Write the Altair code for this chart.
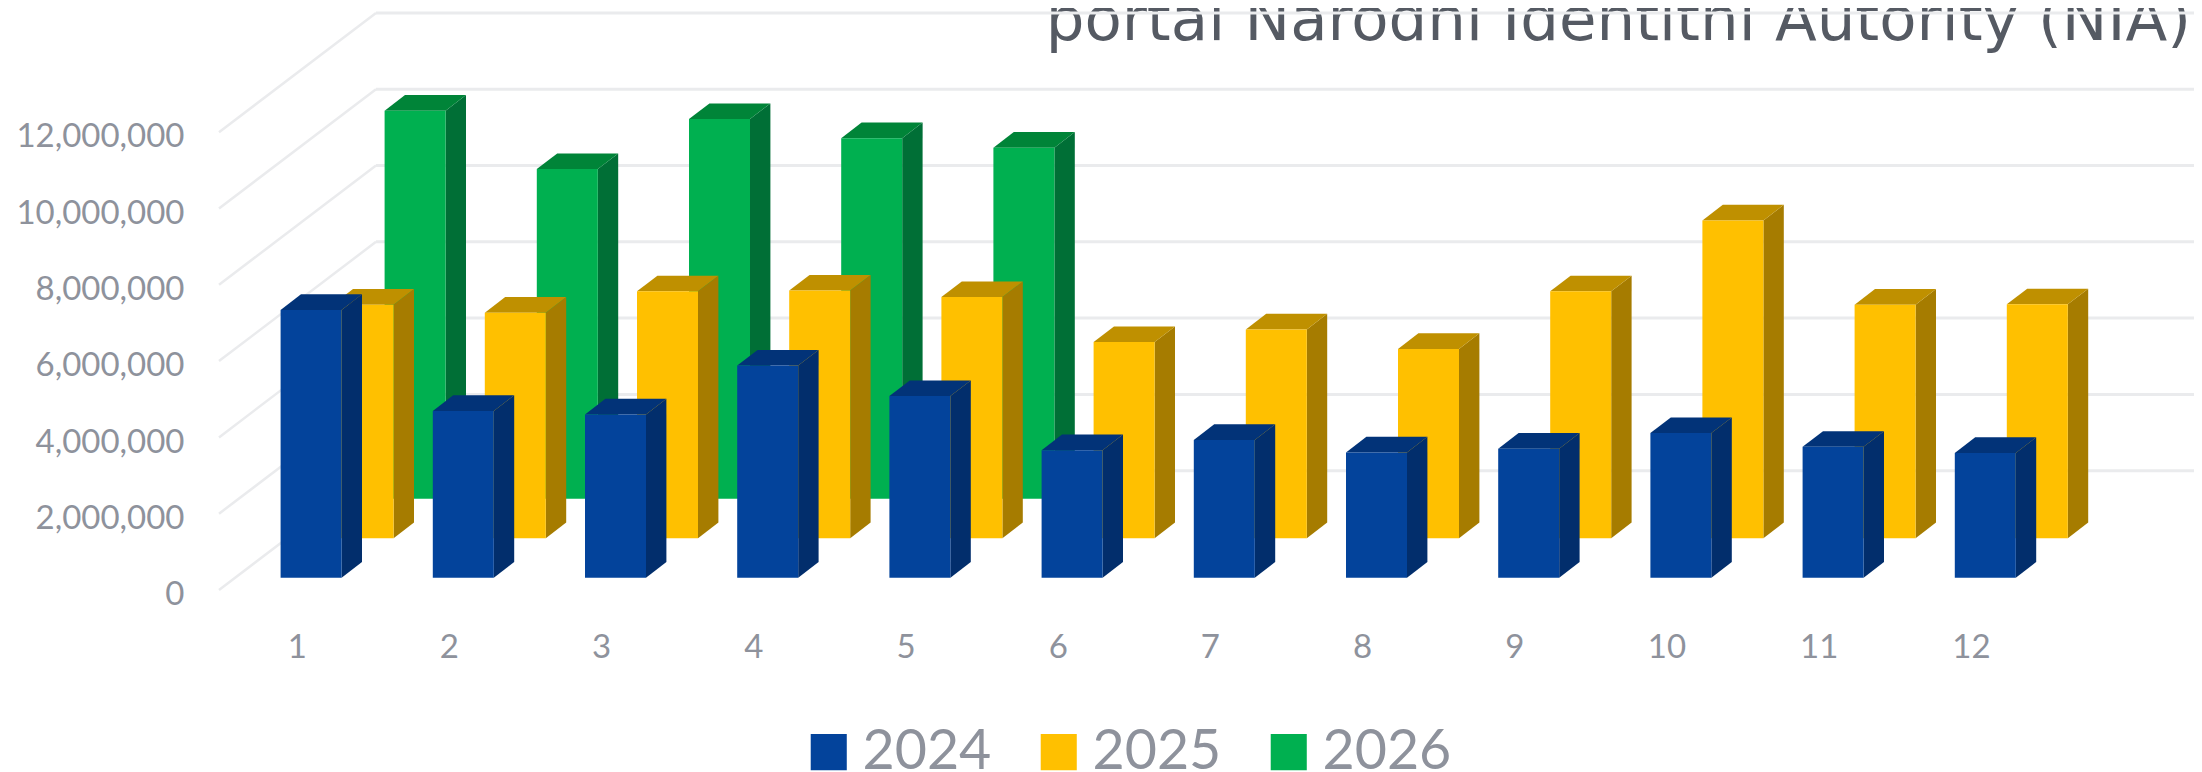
import altair as alt
import pandas as pd

months = list(range(1, 13))
v2024 = [7020000, 4370000, 4280000, 5560000, 4760000, 3340000, 3610000, 3280000, 3380000, 3790000, 3430000, 3270000]
v2025 = [6120000, 5910000, 6470000, 6490000, 6320000, 5140000, 5470000, 4960000, 6470000, 8330000, 6120000, 6130000]
v2026 = [10170000, 8640000, 9950000, 9450000, 9200000]
y_ticks = [0, 2000000, 4000000, 6000000, 8000000, 10000000, 12000000]
title_text = "portal Narodni Identitni Autority (NIA)"

W, H = 2186, 764
PX_X = 152.2          # pixels per month
PX_Y = 38.15 / 1e6    # pixels per unit
to_m = lambda px: px / PX_X
to_v = lambda px: px / PX_Y
x_dom = [1 + (8 - 296.7) / PX_X, 1 + (8 + W - 296.7) / PX_X]
y_dom = [(577.7 - 772) / PX_Y, (577.7 - 8) / PX_Y]
xs = alt.Scale(domain=x_dom, range=[0, W], zero=False, nice=False)
ys = alt.Scale(domain=y_dom, range=[H, 0], zero=False, nice=False)

BAR_W = to_m(61)
DX, DY = to_m(20.4), to_v(15.7)
LEFT0 = to_m(-16.1)
STEP_X, STEP_Y = to_m(52), to_v(39.5)

years = {
    "2026": dict(vals=v2026, idx=2, front="#00B050", side="#006F36", top="#008438"),
    "2025": dict(vals=v2025, idx=1, front="#FFC000", side="#A67C00", top="#BF9000"),
    "2024": dict(vals=v2024, idx=0, front="#03439B", side="#022E6C", top="#023378"),
}
color = alt.Color(
    "year:N",
    scale=alt.Scale(domain=["2024", "2025", "2026"], range=["#03439B", "#FFC000", "#00B050"]),
    legend=alt.Legend(
        title=None, orient="none", legendX=793, legendY=716, direction="horizontal", columns=3,
        symbolType="square", symbolSize=1300, symbolStrokeWidth=0, labelFontSize=55.5, labelFont="Lato",
        labelColor="#8E929C", labelOffset=6, columnPadding=39, padding=0, labelLimit=300, symbolOpacity=1,
    ),
)
x_axis = alt.Axis(
    values=months, labelExpr="format(datum.value, 'd')", offset=-141, domain=False, ticks=False, grid=False, labelPadding=0,
    labelFont="Lato", labelFontSize=33, labelColor="#8E929C", labelFlush=False, labelOverlap=False)
y_axis = alt.Axis(
    values=y_ticks, labelExpr="format(datum.value, ',')", offset=-176, domain=False, ticks=False, grid=False, labelPadding=0,
    labelOffset=17, labelFont="Lato", labelFontSize=33, labelColor="#8E929C", labelFlush=False, labelOverlap=False)
X = lambda f="x": alt.X(f"{f}:Q", scale=xs, axis=x_axis, title=None)
Y = lambda f="y": alt.Y(f"{f}:Q", scale=ys, axis=y_axis, title=None)

layers = []

# title sits under the grid
layers.append(
    alt.Chart(pd.DataFrame({"x": [1 + (2191 - 296.7) / PX_X], "y": [(577.7 - 40) / PX_Y], "t": [title_text]}))
    .mark_text(align="right", baseline="alphabetic", font="DejaVu Sans", fontSize=61, color="#555A63")
    .encode(x=X(), y=Y(), text="t:N")
)

# walls
GRID = "#EAEBED"
front_x = 1 + (219 - 296.7) / PX_X
back_x = 1 + (376 - 296.7) / PX_X
front_shift = to_v(-12.3)
back_shift = to_v(107)
diag = []
for i, t in enumerate(y_ticks):
    diag.append({"k": i, "x": front_x, "y": t + front_shift})
    diag.append({"k": i, "x": back_x, "y": t + back_shift})
layers.append(
    alt.Chart(pd.DataFrame(diag)).mark_line(color=GRID, strokeWidth=2.5).encode(x=X(), y=Y(), detail="k:N")
)
layers.append(
    alt.Chart(pd.DataFrame({"y": [t + back_shift for t in y_ticks], "x": [back_x] * 7, "x2": [x_dom[1]] * 7}))
    .mark_rule(color=GRID, strokeWidth=3)
    .encode(x=X(), x2="x2:Q", y=Y())
)

# bars, back to front
for name, s in years.items():
    base = s["idx"] * STEP_Y
    side_rows, top_rows, front_rows = [], [], []
    for m, v in zip(months, s["vals"]):
        x0 = m + LEFT0 + s["idx"] * STEP_X
        x1 = x0 + BAR_W
        h = base + v
        side_rows += [
            {"m": m, "x": x1, "y": h, "y2": base},
            {"m": m, "x": x1 + DX, "y": h + DY, "y2": base + DY},
        ]
        top_rows += [
            {"m": m, "y": h, "x": x0, "x2": x1},
            {"m": m, "y": h + DY, "x": x0 + DX, "x2": x1 + DX},
        ]
        front_rows.append({"year": name, "x": x0, "x2": x1, "y": h, "y2": base})
    layers.append(
        alt.Chart(pd.DataFrame(side_rows)).mark_area(color=s["side"], orient="vertical")
        .encode(x=X(), y=Y(), y2="y2:Q", detail="m:N")
    )
    layers.append(
        alt.Chart(pd.DataFrame(top_rows)).mark_area(color=s["top"], orient="horizontal")
        .encode(y=Y(), x=X(), x2="x2:Q", detail="m:N")
    )
    layers.append(
        alt.Chart(pd.DataFrame(front_rows)).mark_bar()
        .encode(x=X(), x2="x2:Q", y=Y(), y2="y2:Q", color=color)
    )

chart = (
    alt.layer(*layers)
    .properties(width=W, height=H, padding=0, autosize=alt.AutoSizeParams(type="none"), background="white")
    .configure_view(stroke=None)
)
chart.save("out.html", embed_options={"renderer": "svg", "actions": False})
